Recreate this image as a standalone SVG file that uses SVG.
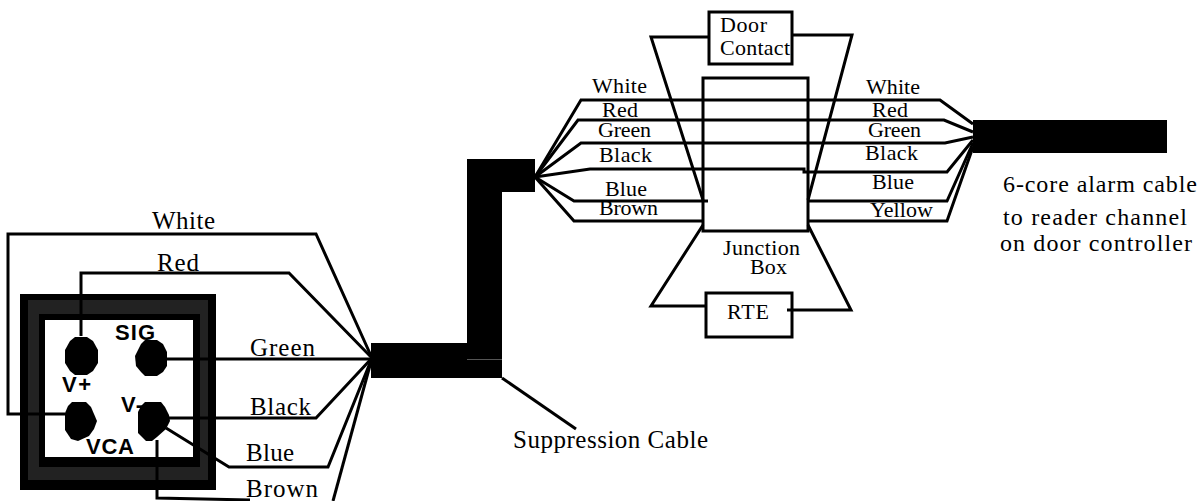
<svg xmlns="http://www.w3.org/2000/svg" width="1201" height="501" viewBox="0 0 1201 501">
<style>
.w{fill:none;stroke:#000;stroke-width:3;stroke-linejoin:miter}
.t{font-family:"Liberation Serif","Times New Roman",serif;font-size:25px;fill:#000}
.s{font-size:22px}
.m{font-size:24px}
.b{font-family:"Liberation Sans",Arial,sans-serif;font-weight:bold;font-size:22px;fill:#000}
.k{fill:#000}
.box{fill:none;stroke:#000;stroke-width:3}
</style>
<rect width="1201" height="501" fill="#fff"/>
<g id="sensor">
<rect x="20" y="294" width="196" height="196" fill="#000"/>
<rect x="28" y="300" width="180" height="180" fill="#222"/>
<rect x="39" y="314" width="161" height="153" fill="#000"/>
<rect x="45" y="320" width="148" height="137" fill="#fff"/>
</g>
<g id="connectors">
<path class="w" d="M65 414H8V234H316L372 358"/>
<path class="w" d="M81 336V273H289L372 358"/>
<path class="w" d="M165 359H372"/>
<path class="w" d="M165 418H316L372 358"/>
<path class="w" d="M166 428L229 467H328L372 358"/>
<path class="w" d="M157 440V498L250 500"/>
<path class="w" d="M333 501L372 358"/>
<path class="w" d="M502 378L576 429"/>
<path class="w" d="M535 177L581 100H940L973 124"/>
<path class="w" d="M535 177L578 120H944L973 132"/>
<path class="w" d="M535 177L581 143H945L973 137"/>
<path class="w" d="M535 177L590 169H804V172H947L973 140"/>
<path class="w" d="M535 177L574 201H708M808 201H947L973 143"/>
<path class="w" d="M535 177L574 221H703M808 221H947L973 147"/>
<path class="w" d="M709 37H651L703 200"/>
<path class="w" d="M792 35H852L808 200"/>
<path class="w" d="M706 306H651L703 225"/>
<path class="w" d="M787 310H851L808 225"/>
</g>
<g id="terminals">
<polygon id="term-vplus" class="k" points="75,337 87,337 93,341 98,350 98,363 93,371 87,375 75,375 70,371 65,363 65,350 70,341"/>
<polygon id="term-sig" class="k" points="145,340 157,340 163,344 167,352 167,366 163,372 157,376 145,376 141,372 136,366 135,356 141,344"/>
<polygon id="term-vca" class="k" points="72,402 86,402 91,407 94,414 97,421 94,429 89,436 78,441 71,439 65,430 65,413 68,406"/>
<polygon id="term-vminus" class="k" points="145,402 161,402 165,407 169,415 170,421 166,429 157,437 152,441 146,441 138,433 138,412 141,406"/>
<text class="b" x="115" y="340" textLength="40">SIG</text>
<text class="b" x="62" y="392" textLength="29">V+</text>
<text class="b" x="121" y="412" textLength="22">V-</text>
<text class="b" x="86" y="454" textLength="48">VCA</text>
</g>
<g id="cable-suppression" class="k">
<rect x="371" y="343" width="131" height="35"/>
<rect x="467" y="159" width="35" height="219"/>
<rect x="467" y="159" width="68" height="33"/>
<path d="M467 359.500H502" stroke="#555" stroke-width="1"/>
</g>
<g id="cable-alarm"><rect class="k" x="973" y="120" width="194" height="33"/></g>
<g id="junction-box">
<rect class="box" x="703" y="78" width="105" height="153"/>
<text class="t s" x="723" y="255" textLength="77">Junction</text>
<text class="t s" x="750" y="274" textLength="37">Box</text>
</g>
<g id="door-contact">
<rect class="box" x="709" y="12" width="83" height="52"/>
<text class="t s" x="720" y="32" textLength="47">Door</text>
<text class="t s" x="720" y="55" textLength="70">Contact</text>
</g>
<g id="rte">
<rect class="box" x="706" y="293" width="86" height="44"/>
<text class="t s" x="727" y="319" textLength="42">RTE</text>
</g>
<g id="labels">
<text class="t" x="152" y="229" textLength="63">White</text>
<text class="t" x="157" y="271" textLength="42">Red</text>
<text class="t" x="250" y="356" textLength="65">Green</text>
<text class="t" x="250" y="415" textLength="61">Black</text>
<text class="t" x="246" y="461" textLength="48">Blue</text>
<text class="t" x="246" y="497" textLength="72">Brown</text>
<text class="t" x="513" y="448" textLength="195">Suppression Cable</text>
<text class="t s" x="592" y="93" textLength="55">White</text>
<text class="t s" x="602" y="117" textLength="36">Red</text>
<text class="t s" x="598" y="137" textLength="53">Green</text>
<text class="t s" x="599" y="162" textLength="53">Black</text>
<text class="t s" x="605" y="196" textLength="42">Blue</text>
<text class="t s" x="599" y="215" textLength="59">Brown</text>
<text class="t s" x="866" y="94" textLength="54">White</text>
<text class="t s" x="872" y="117" textLength="36">Red</text>
<text class="t s" x="868" y="137" textLength="53">Green</text>
<text class="t s" x="865" y="160" textLength="53">Black</text>
<text class="t s" x="872" y="189" textLength="42">Blue</text>
<text class="t s" x="870" y="217" textLength="63">Yellow</text>
<text class="t m" x="1003" y="192" textLength="194">6-core alarm cable</text>
<text class="t m" x="1003" y="225" textLength="184">to reader channel</text>
<text class="t m" x="1000" y="251" textLength="192">on door controller</text>
</g>
</svg>
